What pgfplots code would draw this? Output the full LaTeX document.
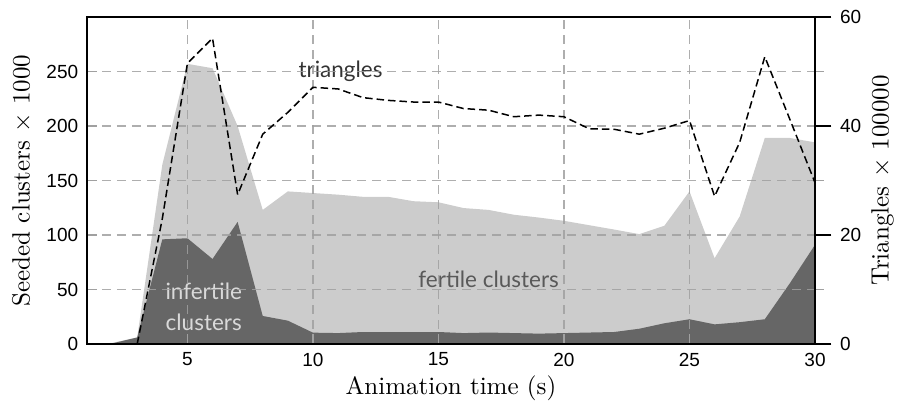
\documentclass[border=0pt]{standalone}
\usepackage{fontspec}
\usepackage{pgfplots}
\pgfplotsset{compat=1.18}
\newfontfamily\tickfont{Liberation Sans}
\newfontfamily\latofont{Lato}
\definecolor{darkfill}{HTML}{666666}
\definecolor{lightfill}{HTML}{CCCCCC}
\definecolor{gridc}{HTML}{A0A0A0}
\begin{document}
\begin{tikzpicture}
\useasboundingbox (-34.8pt,-24.4pt) rectangle (325.6pt,137.6pt);
\pgfplotsset{
  every axis/.append style={
    anchor=south west, at={(0pt,0pt)},
    scale only axis, width=291.2pt, height=130.8pt,
    xmin=1, xmax=30,
    /pgf/number format/assume math mode=true,
    tick label style={font=\tickfont\fontsize{7.6}{9}\selectfont},
    label style={font=\fontsize{10}{12}\selectfont},
  }
}
\begin{axis}[
  ymin=0, ymax=300,
  axis on top,
  xtick={5,10,15,20,25,30},
  ytick={0,50,100,150,200,250},
  xtick pos=bottom, ytick pos=left,
  tick style={color=gridc, line width=0.5pt},
  major tick length=4pt,
  tick align=inside,
  grid=major,
  major grid style={color=gridc, opacity=0.85, line width=0.55pt, dash pattern=on 3.6pt off 2.4pt},
  axis line style={black, line width=0.6pt},
  xlabel={Animation time (s)},
  ylabel={Seeded clusters $\times$ 1000},
  xlabel style={yshift=3pt},
  ylabel style={yshift=-1pt},
]
\addplot[fill=lightfill, draw=none] coordinates {
(1,0) (2,1) (3,6) (4,164.5) (5,257) (6,253) (7,200) (8,123) (9,140) (10,138.5)
(11,137) (12,135) (13,135) (14,131) (15,130) (16,124.7) (17,123) (18,118.6) (19,116) (20,113)
(21,109) (22,105) (23,100.8) (24,108.5) (25,140) (26,78.7) (27,117) (28,189) (29,189) (30,185)
} \closedcycle;
\addplot[fill=darkfill, draw=none] coordinates {
(1,0) (2,0.5) (3,6) (4,96) (5,97) (6,78) (7,112) (8,25.7) (9,21.4) (10,10.4)
(11,10) (12,11) (13,11) (14,11) (15,11) (16,10) (17,10.5) (18,10) (19,9.5) (20,10)
(21,10.5) (22,11) (23,14) (24,19) (25,22.7) (26,18) (27,20) (28,22.7) (29,55.8) (30,91)
} \closedcycle;
\node[font=\latofont\fontsize{9}{10}\selectfont, text=black!80] at (axis cs:11.1,250) {triangles};
\node[font=\latofont\fontsize{9}{12.4}\selectfont, text=black!15, align=center, inner sep=0pt] at (axis cs:5.65,34) {infertile\\clusters};
\node[font=\latofont\fontsize{9}{10}\selectfont, text=black!65] at (axis cs:17.0,59) {fertile clusters};
\end{axis}
\begin{axis}[
  ymin=0, ymax=60,
  axis y line*=right, axis x line=none,
  ytick={0,20,40,60},
  minor ytick={10,30,50},
  tick align=outside,
  major tick length=6.5pt,
  major tick style={black, line width=0.6pt},
  minor tick style={color=gridc, line width=0.5pt},
  minor tick length=3.5pt,
  axis line style={black, line width=0.6pt},
  ylabel={Triangles $\times$ 100000},
  ylabel style={yshift=2.8pt},
]
\addplot[black, line width=0.6pt, dash pattern=on 3pt off 1.6pt, mark=none] coordinates {
(3,0) (4,23) (5,51.5) (6,56.1) (7,27.4) (8,38.5) (9,42.5) (10,47.1)
(11,46.8) (12,45.2) (13,44.7) (14,44.4) (15,44.4) (16,43.2) (17,42.9) (18,41.7) (19,42) (20,41.7)
(21,39.5) (22,39.4) (23,38.5) (24,39.6) (25,41) (26,27.1) (27,37) (28,52.7) (29,41.2) (30,29.6)
};
\end{axis}
\end{tikzpicture}
\end{document}
